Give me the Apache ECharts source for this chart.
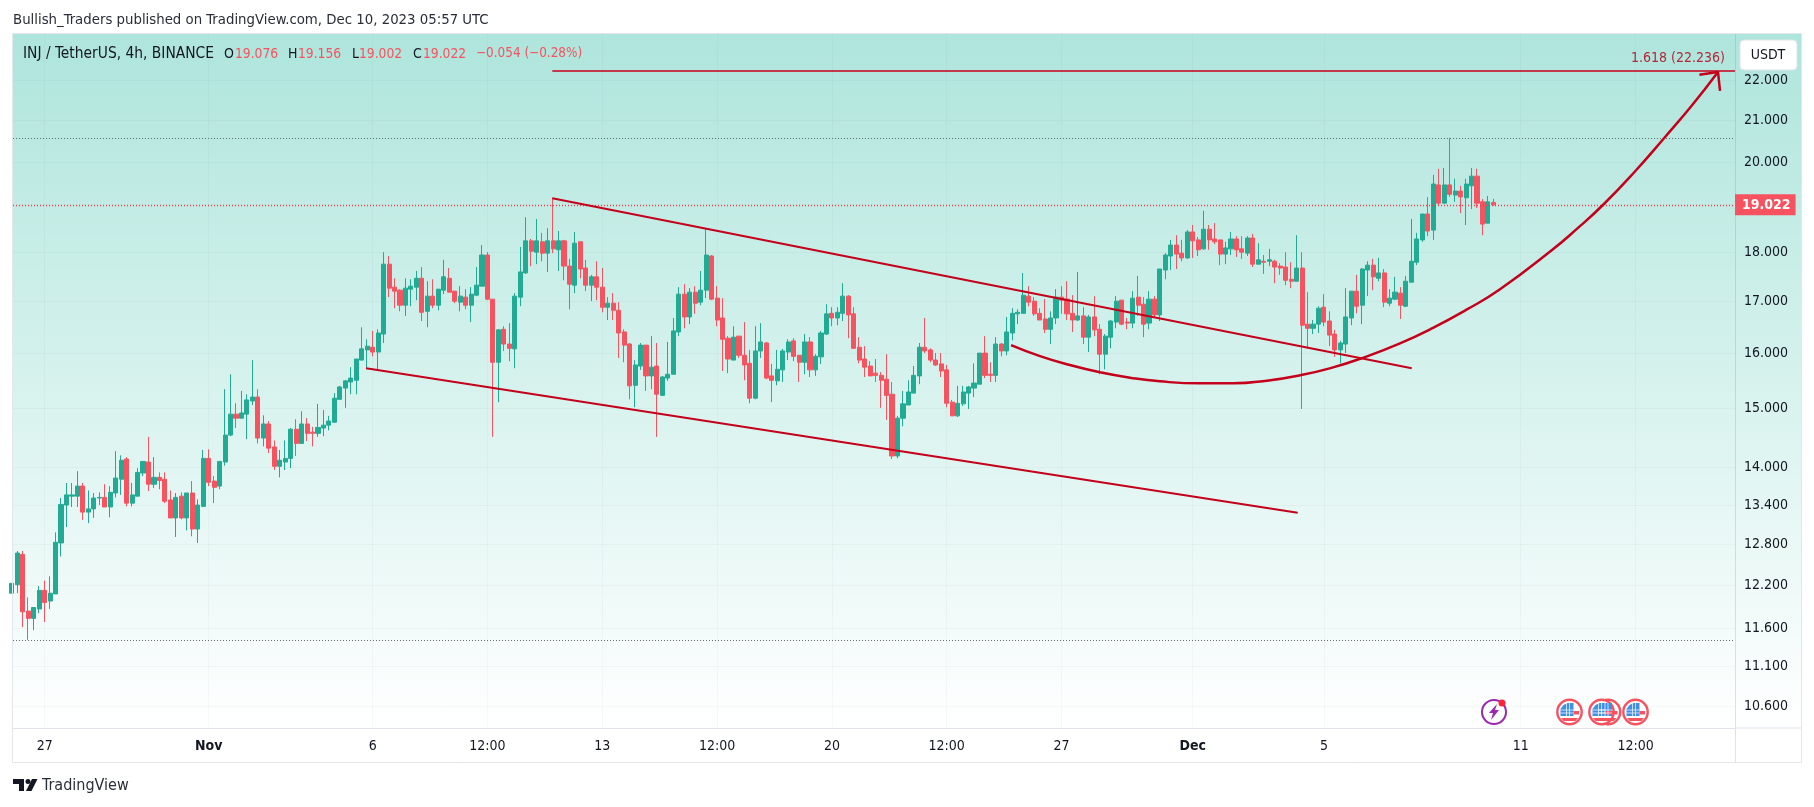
<!DOCTYPE html>
<html>
<head>
<meta charset="utf-8">
<title>INJ / TetherUS</title>
<script src="https://cdn.jsdelivr.net/npm/echarts@6/dist/echarts.min.js"></script>
<style>
  html, body { margin: 0; padding: 0; background: #fff; }
  #chart { width: 1814px; height: 807px; }
</style>
</head>
<body>
<div id="chart"></div>
<script>
// 4h candles, first entry is the bar cut off by the left edge
var opens = [12.09,
  12.21,12.65,11.84,11.74,11.87,12.13,11.98,12.08,12.82,13.40,
  13.54,13.54,13.70,13.29,13.34,13.51,13.52,13.37,13.59,13.81,
  14.14,13.43,13.54,13.91,14.09,13.73,13.84,13.81,13.48,13.20,
  13.54,13.20,13.59,13.03,13.38,14.15,13.78,13.70,14.09,14.54,
  14.90,14.83,14.90,15.13,15.20,14.49,14.73,14.34,14.02,14.09,
  14.15,14.64,14.40,14.73,14.59,14.57,14.66,14.71,14.76,15.16,
  15.36,15.47,15.50,15.87,16.06,16.11,16.02,16.36,17.75,17.28,
  17.22,16.92,17.24,17.28,17.46,16.80,17.10,16.92,17.22,17.46,
  17.20,16.98,17.08,16.92,17.12,17.30,17.94,17.04,15.83,16.45,
  16.17,16.08,17.08,17.57,18.24,18.00,18.22,17.98,18.24,18.05,
  18.24,17.71,17.32,18.22,17.67,17.32,17.49,17.28,16.88,16.96,
  16.82,16.40,16.17,15.41,15.76,16.15,15.58,15.76,15.23,15.54,
  15.61,16.40,17.14,16.69,17.18,16.98,17.22,17.92,17.06,16.67,
  16.28,15.87,16.32,15.96,15.81,15.18,16.04,16.19,15.58,15.49,
  15.69,16.02,16.23,15.96,15.83,16.21,15.69,15.93,16.36,16.76,
  16.67,16.76,17.10,16.75,16.11,15.89,15.76,15.63,15.59,15.52,
  15.25,14.19,14.83,15.06,15.27,15.58,16.11,16.06,15.87,15.80,
  15.69,15.11,14.87,15.08,15.27,15.36,15.43,16.00,15.61,15.59,
  16.17,16.04,16.38,16.75,16.76,17.10,17.00,16.76,16.65,16.45,
  16.67,17.08,17.04,16.76,16.63,16.71,16.30,16.69,16.45,15.98,
  16.30,16.59,17.02,16.59,16.57,17.08,16.94,16.57,17.04,16.73,
  17.63,17.92,18.15,17.98,17.88,18.43,18.26,18.07,18.49,18.28,
  18.26,17.96,18.07,18.28,18.07,17.98,18.30,17.75,17.81,17.81,
  17.81,17.71,17.69,17.44,17.40,17.67,16.55,16.47,16.55,16.88,
  16.61,16.36,16.06,16.17,16.67,17.20,16.92,17.63,17.73,17.46,
  17.57,16.96,17.04,17.16,16.90,17.38,17.79,18.26,18.82,18.47,
  19.47,19.06,19.47,19.24,19.33,19.18,19.45,19.67,19.09,18.62,
  19.076];
var closes = [12.23,
  12.67,11.83,11.74,11.89,12.13,11.96,12.09,12.83,13.41,13.56,
  13.56,13.70,13.29,13.34,13.51,13.52,13.37,13.60,13.83,14.12,
  13.43,13.56,13.92,14.10,13.73,13.84,13.79,13.46,13.20,13.52,
  13.20,13.59,13.03,13.40,14.15,13.76,13.68,14.10,14.54,14.90,
  14.83,14.92,15.15,15.20,14.49,14.73,14.32,14.02,14.12,14.15,
  14.64,14.40,14.73,14.57,14.57,14.67,14.71,14.78,15.18,15.38,
  15.49,15.54,15.89,16.08,16.13,16.02,16.38,17.75,17.26,17.20,
  16.92,17.26,17.30,17.46,16.78,17.10,16.92,17.24,17.49,17.18,
  17.00,17.10,16.92,17.14,17.32,17.94,17.04,15.83,16.44,16.17,
  16.09,17.10,17.59,18.24,18.02,18.24,17.98,18.24,18.07,18.24,
  17.71,17.34,18.19,17.65,17.32,17.49,17.28,16.88,16.96,16.82,
  16.38,16.15,15.40,15.78,16.15,15.58,15.74,15.25,15.56,15.61,
  16.42,17.14,16.69,17.18,16.96,17.22,17.94,17.04,16.63,16.26,
  15.89,16.30,15.96,15.78,15.18,16.04,16.21,15.54,15.50,15.70,
  16.04,16.21,15.94,15.83,16.21,15.69,15.94,16.38,16.75,16.67,
  16.78,17.10,16.73,16.09,15.87,15.74,15.58,15.59,15.50,15.23,
  14.19,14.83,15.08,15.29,15.59,16.11,16.04,15.87,15.78,15.67,
  15.09,14.87,15.09,15.29,15.38,15.45,16.00,15.59,15.59,16.17,
  16.04,16.40,16.76,16.78,17.12,16.98,16.75,16.63,16.45,16.67,
  17.08,17.02,16.75,16.63,16.71,16.30,16.69,16.44,15.98,16.32,
  16.61,17.00,16.55,16.57,17.06,16.92,16.55,17.04,16.73,17.65,
  17.94,18.15,17.96,17.88,18.43,18.24,18.05,18.49,18.26,18.22,
  17.96,18.09,18.28,18.05,18.00,18.30,17.75,17.84,17.79,17.84,
  17.69,17.67,17.42,17.40,17.67,16.53,16.47,16.55,16.86,16.59,
  16.34,16.06,16.19,16.69,17.20,16.90,17.65,17.73,17.49,17.57,
  16.98,17.06,17.18,16.92,17.40,17.81,18.28,18.82,18.45,19.49,
  19.06,19.47,19.26,19.33,19.20,19.49,19.67,19.06,18.60,19.09,
  19.022];
var lows = [12.09,
  12.09,11.62,11.45,11.58,11.81,11.69,11.87,12.08,12.62,13.06,
  13.37,13.37,13.17,13.12,13.20,13.40,13.37,13.21,13.52,13.56,
  13.38,13.38,13.54,13.86,13.62,13.67,13.65,13.43,13.20,12.91,
  13.18,13.01,12.92,12.82,13.37,13.70,13.43,13.65,14.03,14.52,
  14.66,14.83,14.47,15.06,14.40,14.35,14.24,13.96,13.84,13.96,
  13.99,14.19,14.39,14.44,14.35,14.51,14.52,14.62,14.75,15.16,
  15.01,15.25,15.25,15.87,15.70,15.94,15.67,16.19,17.08,16.86,
  16.80,16.71,16.90,17.02,16.61,16.49,16.86,16.82,17.14,17.18,
  16.96,16.80,16.84,16.59,17.10,17.30,17.02,14.51,15.11,16.04,
  15.85,15.72,16.90,17.55,17.71,17.75,17.81,17.59,17.98,17.61,
  17.42,16.84,17.16,17.46,17.20,17.00,17.02,16.78,16.63,16.63,
  15.91,15.83,15.16,15.02,15.69,15.31,15.34,14.51,15.22,15.49,
  15.61,16.32,16.47,16.55,16.75,16.92,17.06,17.02,16.51,15.67,
  15.63,15.87,15.91,15.50,15.09,15.16,15.91,15.52,15.11,15.41,
  15.47,15.87,15.85,15.47,15.61,15.56,15.58,15.80,16.34,16.51,
  16.53,16.61,16.28,16.08,15.81,15.56,15.58,15.47,15.01,14.80,
  14.14,14.15,14.69,15.06,15.27,15.43,16.00,15.83,15.76,15.56,
  15.02,14.87,14.85,15.04,14.99,15.20,15.43,15.54,15.47,15.47,
  15.94,15.96,16.24,16.55,16.76,16.90,16.71,16.63,16.38,16.17,
  16.55,16.75,16.63,16.40,16.61,16.17,16.02,16.32,15.61,15.70,
  16.09,16.47,16.53,16.45,16.47,16.71,16.30,16.45,16.67,16.61,
  17.44,17.63,17.65,17.81,17.86,17.88,17.92,18.05,18.05,18.17,
  17.73,17.75,17.94,17.90,17.86,17.92,17.69,17.75,17.55,17.71,
  17.36,17.53,17.32,17.26,17.40,14.99,16.08,16.36,16.38,16.51,
  16.13,15.93,15.81,16.00,16.53,16.76,16.55,17.10,17.22,17.40,
  16.88,16.90,17.02,16.65,16.88,17.38,17.73,18.22,18.34,18.26,
  19.00,19.06,19.20,19.09,18.84,18.58,18.93,18.95,18.36,18.62,
  19.002];
var highs = [12.23,
  12.70,12.70,12.03,11.89,12.19,12.27,12.33,12.98,13.51,13.75,
  13.75,13.94,13.75,13.63,13.59,13.60,13.73,13.70,14.27,14.20,
  14.17,13.75,13.99,14.10,14.51,14.17,13.92,13.92,13.63,13.59,
  13.60,13.59,13.78,13.49,14.29,14.30,13.86,14.10,15.34,15.61,
  15.09,15.31,15.25,15.87,15.34,14.88,14.78,14.45,14.29,14.45,
  14.66,14.81,14.95,14.83,14.68,15.08,14.97,14.87,15.27,15.40,
  15.50,15.74,15.89,16.49,16.26,16.42,16.45,18.00,17.92,17.46,
  17.24,17.46,17.44,17.61,17.69,17.40,17.44,17.24,17.84,17.67,
  17.20,17.30,17.24,17.28,17.69,18.15,18.00,17.04,16.45,16.51,
  16.57,17.16,18.11,18.75,18.28,18.71,18.41,18.51,19.18,18.45,
  18.26,17.86,18.43,18.22,17.84,17.53,17.81,17.67,17.08,17.16,
  16.98,16.45,16.19,15.87,16.19,16.15,16.32,16.19,15.58,16.21,
  16.67,17.28,17.34,17.26,17.30,17.61,18.51,17.94,17.30,17.06,
  16.32,16.51,16.32,16.59,16.06,16.51,16.57,16.21,15.80,16.06,
  16.08,16.26,16.28,15.96,16.36,16.30,15.98,16.42,16.94,16.88,
  16.88,17.36,17.12,16.88,16.30,16.13,15.85,15.89,15.65,15.98,
  15.47,14.87,15.31,15.50,15.76,16.19,16.67,16.09,16.00,16.00,
  15.78,15.15,15.40,15.40,15.40,15.81,16.00,16.32,15.83,16.30,
  16.19,16.69,16.86,16.84,17.57,17.30,17.08,16.86,17.04,16.80,
  17.24,17.30,17.40,17.12,17.59,16.88,16.73,17.10,16.55,16.36,
  16.63,17.10,17.02,16.67,17.20,17.51,17.08,17.20,17.10,17.65,
  17.98,18.26,18.36,18.26,18.47,18.58,18.32,18.89,18.58,18.62,
  18.26,18.22,18.43,18.34,18.34,18.34,18.39,18.19,17.94,18.07,
  17.84,17.77,18.00,17.79,18.36,18.00,17.18,16.63,16.90,17.14,
  16.80,16.44,16.23,17.26,17.20,17.53,17.67,17.81,17.86,17.88,
  17.65,17.24,17.49,17.28,17.51,18.71,18.41,18.82,19.20,19.70,
  19.84,19.86,20.57,19.61,19.45,19.61,19.86,19.84,19.15,19.22,
  19.156];

// axis ticks (x = bar number, first full bar is 0)
var timeTicks = [5, 35, 65, 86, 107, 128, 149, 170, 191, 215, 239, 275, 296];
var timeLabels = ['27', 'Nov', '6', '12:00', '13', '12:00', '20', '12:00', '27', 'Dec', '5', '11', '12:00'];
var priceTicks = [22, 21, 20, 18, 17, 16, 15, 14, 13.4, 12.8, 12.2, 11.6, 11.1, 10.6];

// drawings, [bar number, price]
var upperChannel = [[97.86, 19.17], [255.06, 15.72]];
var lowerChannel = [[63.8, 15.72], [234.2, 13.28]];
var roundingCurve = [[181.77, 16.15], [187.07, 15.944], [192.55, 15.778], [198.04, 15.645], [203.53, 15.547],
  [209.01, 15.481], [216.33, 15.445], [222.37, 15.445], [228.59, 15.494], [234.63, 15.59], [240.67, 15.735],
  [245.97, 15.907], [252.92, 16.184], [258.95, 16.479], [265.17, 16.837], [271.21, 17.237], [280.72, 18.045],
  [285.47, 18.517], [290.12, 19.03], [295.72, 19.755], [301.21, 20.561], [306.33, 21.366], [311.08, 22.213]];
var arrowHead = [[307.68, 22.14], [311.08, 22.213], [311.45, 21.73]];
var fibStart = 97.86, fibLevel = 22.236;
var lastPrice = 19.022, resistance = 20.56, support = 11.45;

var legendParts = [
  ['INJ / TetherUS, 4h, BINANCE', 23, 0, 15.4], ['O', 224, 0, 14], ['19.076', 235, 1, 13.7], ['H', 288, 0, 14], ['19.156', 298, 1, 13.7],
  ['L', 352, 0, 14], ['19.002', 359, 1, 13.7], ['C', 413, 0, 14], ['19.022', 423, 1, 13.7], ['\u22120.054 (\u22120.28%)', 476, 1, 13.4]
];

var xMin = -0.787, xMax = 314.19, yMin = 10.33, yMax = 23.22;

var fontName = '"DejaVu Sans Condensed", "DejaVu Sans", sans-serif';
var upColor = '#22ab94', downColor = '#f7525f', drawColor = '#c4001a', textColor = '#131722';

var candles = opens.map(function (o, i) {
  return [i - 1, o, closes[i], lows[i], highs[i]];
});

function lineSeries(data, width, smooth) {
  return {
    type: 'line', data: data, showSymbol: false, silent: true, smooth: smooth || false,
    lineStyle: { color: drawColor, width: width }, z: 5, animation: false
  };
}

// little US flag event markers in the bottom of the pane
function flag(cx, cy) {
  var white = { stroke: '#fff', lineWidth: 0.7 };
  return {
    type: 'group', silent: true, z: 20, children: [
      { type: 'circle', z: 20, shape: { cx: cx, cy: cy, r: 12.2 }, style: { fill: '#fff', stroke: '#f7525f', lineWidth: 2.4 } },
      { type: 'polygon', z: 21, shape: { points: [[cx - 9, cy + 4], [cx - 9, cy - 3], [cx - 6, cy - 7], [cx - 2, cy - 9], [cx + 4, cy - 9], [cx + 4, cy + 4]] }, style: { fill: '#3f8fe6' } },
      { type: 'line', z: 22, shape: { x1: cx - 9, y1: cy - 2, x2: cx + 4, y2: cy - 2 }, style: white },
      { type: 'line', z: 22, shape: { x1: cx - 9, y1: cy + 1, x2: cx + 4, y2: cy + 1 }, style: white },
      { type: 'line', z: 22, shape: { x1: cx - 3, y1: cy - 9, x2: cx - 3, y2: cy + 4 }, style: white },
      { type: 'line', z: 22, shape: { x1: cx, y1: cy - 9, x2: cx, y2: cy + 4 }, style: white },
      { type: 'rect', z: 21, shape: { x: cx + 4, y: cy - 1, width: 5.5, height: 3.5 }, style: { fill: '#f7525f' } },
      { type: 'polygon', z: 21, shape: { points: [[cx - 8.5, cy + 6], [cx + 8.5, cy + 6], [cx + 6, cy + 9], [cx - 6, cy + 9]] }, style: { fill: '#f7525f' } }
    ]
  };
}

var chart = echarts.init(document.getElementById('chart'), null, { renderer: 'canvas' });
var option = {
  animation: false,
  textStyle: { fontFamily: fontName },
  grid: { left: 13, right: 79, top: 34, bottom: 79 },
  xAxis: {
    type: 'value', min: xMin, max: xMax,
    axisLine: { onZero: false, lineStyle: { color: '#e0e3eb', width: 1 } },
    axisTick: { show: false, customValues: timeTicks },
    splitLine: { show: true, lineStyle: { color: 'rgba(120,123,134,0.05)' } },
    axisLabel: {
      customValues: timeTicks, margin: 11, fontSize: 14, color: textColor, showMinLabel: true, showMaxLabel: true,
      formatter: function (v) {
        var s = timeLabels[timeTicks.indexOf(v)];
        return (s === 'Nov' || s === 'Dec') ? '{b|' + s + '}' : s;
      },
      rich: { b: { fontWeight: 'bold', fontSize: 14, color: textColor } }
    }
  },
  yAxis: {
    type: 'log', logBase: 10, min: yMin, max: yMax, position: 'right',
    axisLine: { show: true, onZero: false, lineStyle: { color: 'rgba(120,140,140,0.25)' } },
    axisTick: { show: false, customValues: priceTicks },
    splitLine: { show: true, lineStyle: { color: 'rgba(120,123,134,0.05)' } },
    axisLabel: {
      customValues: priceTicks, margin: 9, fontSize: 14, color: textColor,
      formatter: function (v) { return Number(v).toFixed(3); }
    }
  },
  series: [
    {
      type: 'candlestick', data: candles, barWidth: 4.6,
      itemStyle: { color: upColor, color0: downColor, borderColor: upColor, borderColor0: downColor, borderWidth: 1 },
      silent: true,
      markLine: {
        silent: true, symbol: ['none', 'none'], animation: false, precision: 3,
        data: [
          { yAxis: resistance, lineStyle: { color: '#5f6e6c', type: [1, 2], width: 1.2 }, label: { show: false } },
          { yAxis: support, lineStyle: { color: '#5f6e6c', type: [1, 2], width: 1.2 }, label: { show: false } },
          {
            yAxis: lastPrice, lineStyle: { color: '#f43a48', type: [1, 2], width: 1.4 },
            label: {
              show: true, position: 'end', distance: 0, formatter: lastPrice.toFixed(3), color: '#fff', fontSize: 14, fontWeight: 'bold',
              backgroundColor: downColor, padding: [4, 5, 3, 7]
            }
          },
          [
            {
              coord: [fibStart, fibLevel], lineStyle: { color: drawColor, type: 'solid', width: 1.5 },
              label: { show: true, position: 'insideEndTop', distance: [10, 6], formatter: '1.618 (22.236)', color: '#b2283a', fontSize: 14 }
            },
            { coord: [xMax, fibLevel] }
          ]
        ]
      }
    },
    lineSeries(upperChannel, 2),
    lineSeries(lowerChannel, 2),
    lineSeries(roundingCurve, 2.5, 0.5),
    lineSeries(arrowHead, 2.5)
  ],
  graphic: [
    // pane + frame
    {
      type: 'rect', z: -1, silent: true, shape: { x: 13, y: 34, width: 1788, height: 694 },
      style: {
        fill: { type: 'linear', x: 0, y: 0, x2: 0, y2: 1, colorStops: [{ offset: 0, color: '#aee5dc' }, { offset: 1, color: '#ffffff' }] }
      }
    },
    { type: 'rect', z: 30, silent: true, shape: { x: 12.5, y: 33.5, width: 1789, height: 729 }, style: { fill: 'none', stroke: '#e4e6ec', lineWidth: 1 } },
    { type: 'line', z: 30, silent: true, shape: { x1: 1735, y1: 728, x2: 1801, y2: 728 }, style: { stroke: '#e0e3eb', lineWidth: 1 } },
    { type: 'line', z: 30, silent: true, shape: { x1: 1735.5, y1: 728, x2: 1735.5, y2: 762 }, style: { stroke: '#e0e3eb', lineWidth: 1 } },
    // currency button
    { type: 'rect', z: 31, silent: true, shape: { x: 1740, y: 40, width: 57, height: 30, r: 4 }, style: { fill: '#fff', stroke: '#e0e3eb', lineWidth: 1 } },
    { type: 'text', z: 32, silent: true, x: 1768, y: 55, style: { text: 'USDT', fill: textColor, fontSize: 14, fontFamily: fontName, align: 'center', verticalAlign: 'middle' } },
    // header, footer
    { type: 'text', silent: true, x: 13, y: 20, style: { text: 'Bullish_Traders published on TradingView.com, Dec 10, 2023 05:57 UTC', fill: '#2a2e39', fontSize: 14.8, fontFamily: fontName, verticalAlign: 'middle' } },
    { type: 'text', silent: true, x: 42, y: 786, style: { text: 'TradingView', fill: '#2a2e39', fontSize: 16, fontFamily: fontName, verticalAlign: 'middle' } },
    // logo
    { type: 'polygon', silent: true, shape: { points: [[13, 779], [24, 779], [24, 791], [19, 791], [19, 784], [13, 784]] }, style: { fill: '#131722' } },
    { type: 'circle', silent: true, shape: { cx: 28, cy: 781.5, r: 2.5 }, style: { fill: '#131722' } },
    { type: 'polygon', silent: true, shape: { points: [[32, 779], [37.5, 779], [31.5, 791], [26, 791]] }, style: { fill: '#131722' } },
    // event markers
    { type: 'circle', z: 20, silent: true, shape: { cx: 1494, cy: 712, r: 12 }, style: { fill: 'none', stroke: '#9c27b0', lineWidth: 2 } },
    { type: 'polygon', z: 21, silent: true, shape: { points: [[1497, 704], [1489, 713], [1493, 713], [1491, 720], [1499, 710], [1495, 710]] }, style: { fill: '#9c27b0' } },
    { type: 'circle', z: 22, silent: true, shape: { cx: 1502, cy: 703, r: 3.5 }, style: { fill: '#f7243a' } },
    flag(1608, 712), flag(1569.5, 712), flag(1601.5, 712), flag(1635.5, 712)
  ].concat(legendParts.map(function (p) {
    return {
      type: 'text', silent: true, z: 31, x: p[1], y: 54,
      style: { text: p[0], fill: p[2] ? downColor : textColor, fontSize: p[3], fontFamily: fontName, verticalAlign: 'middle' }
    };
  }))
};
chart.setOption(option);
window.addEventListener('resize', function () { chart.resize(); });
</script>
</body>
</html>
